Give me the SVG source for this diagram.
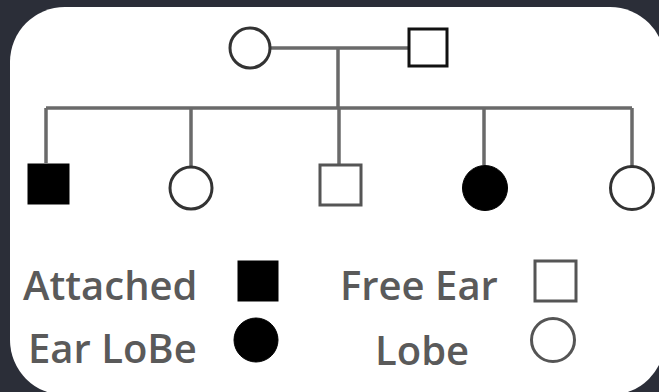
<svg xmlns="http://www.w3.org/2000/svg" width="659" height="392" viewBox="0 0 659 392">
  <style>
    .line { stroke: #6a6a6a; stroke-width: 3.5; fill: none; stroke-linecap: butt; }
    .open { fill: #ffffff; stroke: #333333; stroke-width: 3; }
    .filled { fill: #000000; stroke: #000000; stroke-width: 1; }
    .label { font-family: "Open Sans", "Liberation Sans", sans-serif; font-size: 40px; font-weight: 600; fill: #5a5a5a; }
  </style>
  <rect x="0" y="0" width="659" height="392" fill="#2b2e38"/>
  <rect x="10" y="7" width="655" height="388" rx="55" ry="55" fill="#ffffff"/>

  <!-- connectors -->
  <g id="connectors" class="line">
    <line x1="270" y1="48" x2="408" y2="48"/>
    <line x1="338" y1="48" x2="338" y2="108"/>
    <line x1="46" y1="108" x2="632" y2="108"/>
    <line x1="46" y1="108" x2="46" y2="163"/>
    <line x1="191" y1="108" x2="191" y2="166"/>
    <line x1="339" y1="108" x2="339" y2="164"/>
    <line x1="484" y1="108" x2="484" y2="165"/>
    <line x1="632" y1="108" x2="632" y2="166"/>
  </g>

  <!-- parents -->
  <g id="mother"><circle class="open" cx="250" cy="48" r="20"/></g>
  <g id="father"><rect class="open" x="409" y="29" width="38" height="37" style="stroke:#111"/></g>

  <!-- children -->
  <g id="child1"><rect class="filled" x="28" y="164" width="41" height="40"/></g>
  <g id="child2"><circle class="open" cx="191" cy="188" r="21"/></g>
  <g id="child3"><rect class="open" x="320" y="165" width="41" height="40" style="stroke:#555"/></g>
  <g id="child4"><circle class="filled" cx="485" cy="188" r="22.5"/></g>
  <g id="child5"><circle class="open" cx="632" cy="188" r="21.5"/></g>

  <!-- legend -->
  <g id="legend-attached">
    <text class="label" x="23" y="300">Attached</text>
    <text class="label" x="28" y="363">Ear LoBe</text>
    <rect class="filled" x="238" y="261" width="40" height="40"/>
    <circle class="filled" cx="256" cy="340" r="22"/>
  </g>
  <g id="legend-free">
    <text class="label" x="340" y="300">Free Ear</text>
    <text class="label" x="375" y="365">Lobe</text>
    <rect class="open" x="535" y="261" width="41" height="40" style="stroke:#555"/>
    <circle class="open" cx="553" cy="340" r="21.5" style="stroke:#555"/>
  </g>
</svg>
